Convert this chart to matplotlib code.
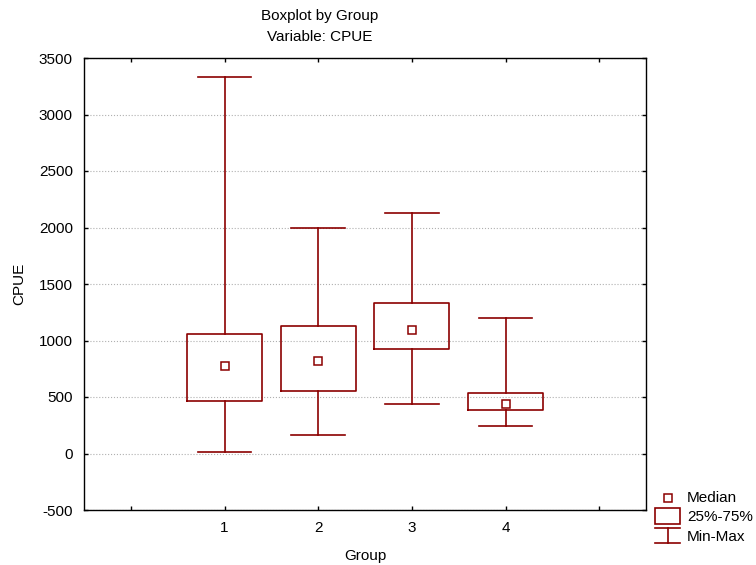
import matplotlib
matplotlib.use("Agg")
from matplotlib import pyplot as plt
from matplotlib.lines import Line2D
from matplotlib.patches import Rectangle

plt.rcParams['font.family'] = ['Liberation Sans', 'DejaVu Sans']
plt.rcParams['axes.unicode_minus'] = False

groups = [1, 2, 3, 4]
medians = [771, 822, 1090, 440]
q1 = [467, 550, 928, 381]
q3 = [1061, 1126, 1330, 535]
mins = [10, 166, 434, 239]
maxs = [3330, 2000, 2130, 1197]

y_ticks = [-500, 0, 500, 1000, 1500, 2000, 2500, 3000, 3500]
x_ticks = [0, 1, 2, 3, 4, 5]
x_tick_labels = ['', '1', '2', '3', '4', '']

red = '#8b0000'
W, H = 756, 565


def fx(px):
    return px / W


def fy(py):
    return 1 - py / H


fig = plt.figure(figsize=(W / 100, H / 100), dpi=100)
ax = fig.add_axes([fx(84), fy(510), fx(646) - fx(84), fy(58) - fy(510)])

stats = []
for g, med, lo, hi, mn, mx in zip(groups, medians, q1, q3, mins, maxs):
    stats.append(dict(med=med, q1=lo, q3=hi, whislo=mn, whishi=mx, label=str(g)))

line_kw = dict(color=red, linewidth=1.2)
ax.bxp(stats, positions=groups, widths=0.8, capwidths=0.57, showfliers=False,
       boxprops=line_kw, whiskerprops=line_kw, capprops=line_kw,
       medianprops=dict(linewidth=0), manage_ticks=False)
ax.plot(groups, medians, 's', markersize=5.5, markerfacecolor='white',
        markeredgecolor=red, markeredgewidth=1.1, zorder=5)

ax.set_xlim(-0.5, 5.5)
ax.set_ylim(-500, 3500)
ax.set_xticks(x_ticks)
ax.set_xticklabels(x_tick_labels)
ax.set_yticks(y_ticks)
ax.tick_params(direction='in', length=3, width=1, top=True, right=True,
               labelsize=11, pad=8)
ax.yaxis.grid(True, linestyle=':', color='#b0b0b0', linewidth=0.8)
ax.set_axisbelow(True)
for sp in ax.spines.values():
    sp.set_color('black')
    sp.set_linewidth(1)

ax.set_xlabel('Group', fontsize=11, labelpad=10)
ax.set_ylabel('CPUE', fontsize=11, labelpad=9)

fig.text(fx(320), fy(16), 'Boxplot by Group', ha='center', va='center', fontsize=11)
fig.text(fx(320), fy(37), 'Variable: CPUE', ha='center', va='center', fontsize=11)

# legend drawn by hand, bottom right outside the axes
fig.add_artist(Line2D([fx(667.5)], [fy(498)], marker='s', markersize=5.5,
                      markerfacecolor='white', markeredgecolor=red,
                      markeredgewidth=1.1, linestyle='none'))
fig.add_artist(Rectangle((fx(655), fy(524)), fx(680) - fx(655), fy(508) - fy(524),
                         fill=False, edgecolor=red, linewidth=1.2,
                         transform=fig.transFigure))
for yy in (528, 543):
    fig.add_artist(Line2D([fx(655), fx(680)], [fy(yy), fy(yy)], color=red, linewidth=1.2))
fig.add_artist(Line2D([fx(667.5), fx(667.5)], [fy(528), fy(543)], color=red, linewidth=1.2))
for label, yy in zip(['Median', '25%-75%', 'Min-Max'], [498, 517, 537]):
    fig.text(fx(687), fy(yy), label, ha='left', va='center', fontsize=11)

fig.savefig('out.png', dpi=100)
